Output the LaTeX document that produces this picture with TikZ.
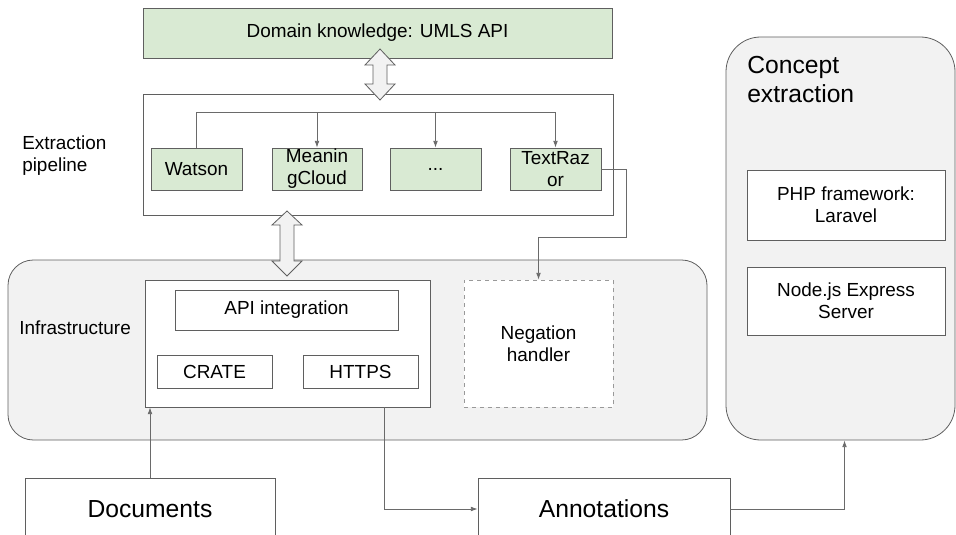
\documentclass[tikz,border=0pt]{standalone}
\usepackage{fontspec}
\setmainfont{Liberation Sans}
\usetikzlibrary{arrows.meta}
\definecolor{gfill}{HTML}{D9EAD3}
\definecolor{lgray}{HTML}{F2F2F2}
\definecolor{bord}{HTML}{5F5F5F}
\definecolor{conncol}{HTML}{6A6A6A}
\begin{document}
\begin{tikzpicture}[x=0.75pt,y=-0.75pt,
  sz/.style 2 args={minimum width=#1*0.75pt, minimum height=#2*0.75pt},
  box/.style={draw=bord, line width=0.6pt, inner sep=0pt, fill=white,
    font=\fontsize{14.2}{16.5}\selectfont, align=center},
  gbox/.style={box, fill=gfill},
  bigbox/.style={box, font=\fontsize{18.5}{22}\selectfont},
  region/.style={draw=bord, line width=0.6pt, fill=lgray, inner sep=0pt},
  lbl/.style={inner sep=0pt, font=\fontsize{14.2}{16.5}\selectfont, align=left},
  arr/.style={draw=conncol, line width=0.6pt, -{Latex[length=5pt,width=3.5pt]}},
  dbl/.style={draw=bord, line width=0.6pt, fill=lgray},
]
\useasboundingbox (0,0) rectangle (956,535);
\clip (0,0) rectangle (956,535);

% regions
\node[region, rounded corners=19pt, sz={699}{180}] (infra) at (357.5,350) {};
\node[region, rounded corners=26pt, sz={229}{403}] (concept) at (840.5,238.5) {};

% top
\node[gbox, sz={469}{50}] (umls) at (377.5,33) {Domain knowledge: UMLS API};
\node[box, sz={470}{121}] (pipe) at (378,154.5) {};
\node[gbox, sz={91}{42}] (watson) at (196.5,169) {Watson};
\node[gbox, sz={90}{42}] (meaning) at (317,169) {Meanin\\gCloud};
\node[gbox, sz={91}{42}] (dots) at (435.5,169) {...};
\node[gbox, sz={91}{42}] (textrazor) at (555.5,169) {TextRaz\\or};
\node[lbl, anchor=west] (pipelbl) at (22,156) {Extraction\\pipeline};

% infrastructure
\node[lbl, anchor=west] (infralbl) at (19,328) {Infrastructure};
\node[box, sz={285}{127}] (inner) at (287.5,343.5) {};
\node[box, sz={223}{40}] (api) at (286.5,310) {API integration};
\node[box, sz={115}{33}] (crate) at (214.5,371.5) {CRATE};
\node[box, sz={115}{33}] (https) at (360.5,371.5) {HTTPS};
\node[box, draw=black!40, dashed, sz={149}{127}] (neg) at (538.5,343.5) {Negation\\handler};

% concept extraction
\node[lbl, anchor=north west, font=\fontsize{18.5}{22}\selectfont] (conceptlbl) at (747,56) {Concept\\extraction};
\node[box, sz={198}{70}] (php) at (846,205) {PHP framework:\\Laravel};
\node[box, sz={198}{68}] (nodejs) at (846,301) {Node.js Express\\Server};

% bottom
\node[bigbox, sz={250}{62}] (docs) at (150,509) {Documents};
\node[bigbox, sz={252}{62}] (annot) at (604,509) {Annotations};

% double arrows
\draw[dbl] (380,49) -- (395,65) -- (387,65) -- (387,84) -- (395,84) -- (380,100)
  -- (365,84) -- (373,84) -- (373,65) -- (365,65) -- cycle;
\draw[dbl] (287,211) -- (302,225) -- (294,225) -- (294,261) -- (302,261) -- (287,276)
  -- (272,261) -- (280,261) -- (280,225) -- (272,225) -- cycle;

% connectors
\coordinate (bar) at (0,112);
\draw[draw=conncol, line width=0.6pt] (watson.north) -- (watson.north |- bar) -- (textrazor.north |- bar);
\draw[arr] (textrazor.north |- bar) -- (textrazor.north);
\draw[arr] (meaning.north |- bar) -- (meaning.north);
\draw[arr] (dots.north |- bar) -- (dots.north);

\coordinate (negturn) at (626,237);
\draw[arr] (textrazor.east) -| (negturn) -| (neg.north);

\draw[arr] (docs.north) -- (docs.north |- inner.south);
\draw[arr] ([xshift=73pt]inner.south) |- (annot.west);
\draw[arr] (annot.east) -| ([xshift=3pt]concept.south);
\end{tikzpicture}
\end{document}
